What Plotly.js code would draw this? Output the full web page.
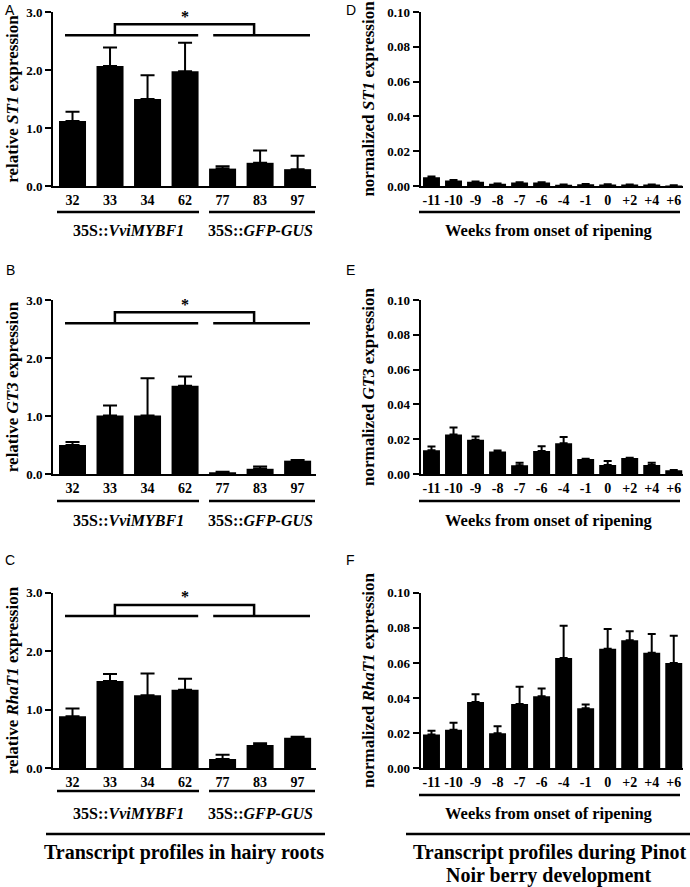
<!DOCTYPE html>
<html><head><meta charset="utf-8">
<script src="https://cdn.plot.ly/plotly-3.0.1.min.js"></script>
<style>body{margin:0;background:#fff}#chart{width:690px;height:887px}</style>
</head><body><div id="chart"></div>
<script>
// ---------- data ----------
const lineCategories = ['32', '33', '34', '62', '77', '83', '97'];
const weekCategories = ['-11', '-10', '-9', '-8', '-7', '-6', '-4', '-1', '0', '+2', '+4', '+6'];

const st1Roots      = [1.12, 2.07, 1.50, 1.98, 0.30, 0.40, 0.29];
const st1RootsErr   = [0.16, 0.32, 0.41, 0.49, 0.04, 0.21, 0.23];
const gt3Roots      = [0.50, 1.01, 1.01, 1.52, 0.03, 0.09, 0.23];
const gt3RootsErr   = [0.05, 0.17, 0.64, 0.16, 0.01, 0.04, 0.01];
const rhat1Roots    = [0.89, 1.49, 1.25, 1.34, 0.16, 0.40, 0.52];
const rhat1RootsErr = [0.13, 0.12, 0.37, 0.19, 0.07, 0.03, 0.02];

const st1Berry      = [0.0050, 0.0031, 0.0024, 0.0013, 0.0020, 0.0020, 0.0007, 0.0010, 0.0009, 0.0008, 0.0008, 0.0003];
const st1BerryErr   = [0.0004, 0.0003, 0.0002, 0.0002, 0.0002, 0.0002, 0.0001, 0.0001, 0.0001, 0.0001, 0.0001, 0.0001];
const gt3Berry      = [0.0137, 0.0227, 0.0197, 0.0130, 0.0050, 0.0132, 0.0177, 0.0086, 0.0052, 0.0092, 0.0052, 0.0021];
const gt3BerryErr   = [0.0021, 0.0040, 0.0019, 0.0005, 0.0015, 0.0028, 0.0035, 0.0002, 0.0022, 0.0002, 0.0013, 0.0002];
const rhat1Berry    = [0.0192, 0.0220, 0.0378, 0.0199, 0.0366, 0.0410, 0.0628, 0.0342, 0.0681, 0.0729, 0.0658, 0.0600];
const rhat1BerryErr = [0.0022, 0.0040, 0.0043, 0.0040, 0.0099, 0.0045, 0.0184, 0.0022, 0.0112, 0.0051, 0.0107, 0.0155];

const rootTitles  = ['relative <i>ST1</i> expression', 'relative <i>GT3</i> expression', 'relative <i>RhaT1</i> expression'];
const berryTitles = ['normalized <i>ST1</i> expression', 'normalized <i>GT3</i> expression', 'normalized <i>RhaT1</i> expression'];
const groupLabels = ['35S::<i>VviMYBF1</i>', '35S::<i>GFP-GUS</i>'];
const weeksLabel  = 'Weeks from onset of ripening';
const leftFooter  = 'Transcript profiles in hairy roots';
const rightFooter = ['Transcript profiles during Pinot', 'Noir berry development'];
const panelLetters = ['A', 'B', 'C', 'D', 'E', 'F'];

// ---------- layout helpers ----------
const W = 690, H = 887;
const px = v => v / W;
const py = v => 1 - v / H;
const SERIF = 'Liberation Serif, Times New Roman, serif';
const SANS = 'Liberation Sans, Arial, sans-serif';
const BLACK = '#000';

// pixel geometry of each panel: [top, bottom] of plot area
const rowsPx = [[12, 186], [300, 474], [592.7, 768.3]];
const leftXpx = [53, 316];
const rightXpx = [420.7, 683];

const rootSeries = [[st1Roots, st1RootsErr], [gt3Roots, gt3RootsErr], [rhat1Roots, rhat1RootsErr]];
const berrySeries = [[st1Berry, st1BerryErr], [gt3Berry, gt3BerryErr], [rhat1Berry, rhat1BerryErr]];

const data = [];
const layout = {
  width: W, height: H,
  margin: {l: 0, r: 0, t: 0, b: 0},
  paper_bgcolor: '#fff', plot_bgcolor: '#fff',
  showlegend: false,
  font: {family: SERIF, color: BLACK},
  annotations: [], shapes: []
};

function boldFont(size) { return {family: SERIF, size: size, color: BLACK, weight: 'bold'}; }

function addPanel(idx, cats, vals, errs, xr, rowPx, xRange, yRange, dtick, fmt, title, barW, capW, standoff) {
  const n = idx + 1;
  const xa = n === 1 ? 'x' : 'x' + n;
  const ya = n === 1 ? 'y' : 'y' + n;
  data.push({
    type: 'bar', x: cats, y: vals, xaxis: xa, yaxis: ya,
    marker: {color: BLACK, line: {width: 0}},
    width: barW,
    error_y: {type: 'data', symmetric: false, array: errs, arrayminus: errs.map(() => 0),
              color: BLACK, thickness: 2, width: capW},
    hoverinfo: 'skip'
  });
  layout['xaxis' + (n === 1 ? '' : n)] = {
    type: 'category', domain: [px(xr[0]), px(xr[1])], anchor: ya,
    range: xRange, showline: true, linewidth: 2, linecolor: BLACK,
    ticks: '', showgrid: false, zeroline: false,
    tickfont: boldFont(14), ticklabelstandoff: 0, fixedrange: true
  };
  layout['yaxis' + (n === 1 ? '' : n)] = {
    domain: [py(rowPx[1]), py(rowPx[0])], anchor: xa,
    range: yRange, dtick: dtick, tick0: 0, tickformat: fmt,
    showline: true, linewidth: 2, linecolor: BLACK,
    ticks: 'outside', ticklen: 6, tickwidth: 2, tickcolor: BLACK,
    showgrid: false, zeroline: false,
    tickfont: boldFont(13),
    title: {text: title, font: boldFont(17), standoff: standoff},
    fixedrange: true
  };
}

for (let r = 0; r < 3; r++) {
  addPanel(r, lineCategories, rootSeries[r][0], rootSeries[r][1], leftXpx, rowsPx[r],
           [-0.52, 6.49], [0, 3.0], 1, '.1f', rootTitles[r], 0.72, 7, 3);
  addPanel(r + 3, weekCategories, berrySeries[r][0], berrySeries[r][1], rightXpx, rowsPx[r],
           [-0.49, 11.42], [0, 0.10], 0.02, '.2f', berryTitles[r], 0.77, 4, 8);
}

function hline(x0, x1, y, xref, yref) {
  layout.shapes.push({type: 'line', xref: xref || 'paper', yref: yref || 'paper',
    x0: x0, x1: x1, y0: y, y1: y, line: {color: BLACK, width: 2.5}});
}
function text(x, y, t, size, opts) {
  layout.annotations.push(Object.assign({
    xref: 'paper', yref: 'paper', x: x, y: y, text: t, showarrow: false,
    xanchor: 'center', yanchor: 'middle',
    font: boldFont(size)
  }, opts || {}));
}

// significance brackets and group labels for the hairy-root panels
const groupLabelY = [230, 520, 813];
const groupLineY = [212, 501, 791];
const weeksLineY = [212, 501, 795];
for (let r = 0; r < 3; r++) {
  const xa = r === 0 ? 'x' : 'x' + (r + 1);
  const ya = r === 0 ? 'y' : 'y' + (r + 1);
  hline(-0.2, 3.35, 2.60, xa, ya);
  hline(3.75, 6.33, 2.60, xa, ya);
  layout.shapes.push({type: 'path', xref: xa, yref: ya,
    path: 'M1.13,2.60 L1.13,2.79 L4.84,2.79 L4.84,2.60', line: {color: BLACK, width: 2.5}});
  layout.annotations.push({xref: xa, yref: ya, x: 3.0, y: 2.93, text: '*', showarrow: false,
    font: boldFont(16)});
  hline(px(57), px(199), py(groupLineY[r]));
  hline(px(209), px(315), py(groupLineY[r]));
  text(px(128), py(groupLabelY[r]), groupLabels[0], 16);
  text(px(260), py(groupLabelY[r]), groupLabels[1], 16);
  hline(px(419), px(680), py(weeksLineY[r]));
  text(px(549), py(groupLabelY[r]), weeksLabel, 16.5);
}

// footers
hline(px(46), px(325), py(834));
hline(px(406), px(690), py(834));
text(px(184), py(852), leftFooter, 20);
text(px(550), py(852), rightFooter[0], 20);
text(px(548), py(875), rightFooter[1], 20);

// panel letters
const letterPos = [[10, 10], [10, 270], [10, 560], [351, 10], [351, 270], [351, 560]];
letterPos.forEach((p, i) => text(px(p[0]), py(p[1]), panelLetters[i], 14,
  {font: {family: SANS, size: 14, color: BLACK}}));

Plotly.newPlot('chart', data, layout, {staticPlot: true, displayModeBar: false});
</script>
</body></html>
